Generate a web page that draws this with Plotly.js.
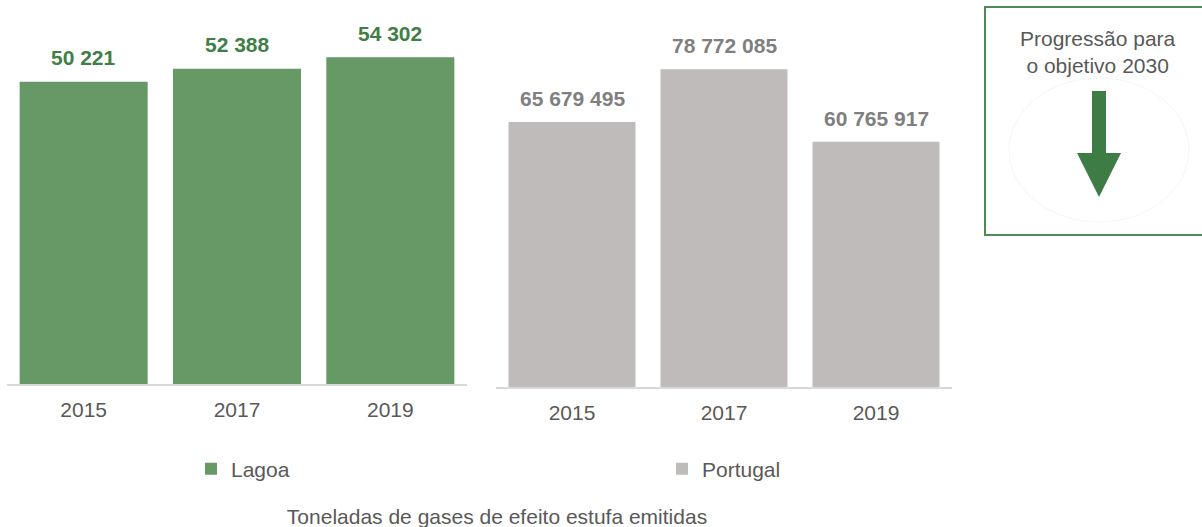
<!DOCTYPE html>
<html>
<head>
<meta charset="utf-8">
<script src="https://cdn.plot.ly/plotly-3.0.1.min.js"></script>
<style>
  html, body { margin: 0; padding: 0; background: #ffffff; }
  #chart { width: 1202px; height: 527px; }
</style>
</head>
<body>
<div id="chart"></div>
<script>
// ---- data ----
const years = ['2015', '2017', '2019'];
const lagoa = [50221, 52388, 54302];
const portugal = [65679495, 78772085, 60765917];
const seriesNames = ['Lagoa', 'Portugal'];
const chartTitle = 'Toneladas de gases de efeito estufa emitidas';
const boxLines = ['Progressão para', 'o objetivo 2030'];

// ---- helpers ----
const W = 1202, H = 527;
const px = x => x / W;
const py = y => 1 - y / H;
const fmt = n => String(n).replace(/\B(?=(\d{3})+(?!\d))/g, ' ');
const FONT = '"Liberation Sans", Arial, sans-serif';

const GREEN_BAR = '#669966';
const GREEN_TXT = '#3f7f47';
const GRAY_BAR = '#bfbbbb';
const GRAY_TXT = '#7f7f7f';
const TXT = '#595959';

const traces = [
  { type: 'bar', x: years, y: lagoa, name: seriesNames[0], xaxis: 'x', yaxis: 'y',
    marker: { color: GREEN_BAR }, hoverinfo: 'skip' },
  { type: 'bar', x: years, y: portugal, name: seriesNames[1], xaxis: 'x2', yaxis: 'y2',
    marker: { color: GRAY_BAR }, hoverinfo: 'skip' }
];

// value labels: x given as category index on the category axes
const annotations = [];
years.forEach((yr, i) => {
  annotations.push({ x: i, y: lagoa[i], xref: 'x', yref: 'y', text: '<b>' + fmt(lagoa[i]) + '</b>',
    showarrow: false, yanchor: 'middle', yshift: 24, font: { family: FONT, size: 21, color: GREEN_TXT } });
  annotations.push({ x: i, y: portugal[i], xref: 'x2', yref: 'y2', text: '<b>' + fmt(portugal[i]) + '</b>',
    showarrow: false, yanchor: 'middle', yshift: 23.5, font: { family: FONT, size: 21, color: GRAY_TXT } });
});
annotations.push({ x: px(1098), y: py(52), xref: 'paper', yref: 'paper', text: boxLines.join('<br>'),
  showarrow: false, xanchor: 'center', yanchor: 'middle', font: { family: FONT, size: 21, color: TXT } });

const shapes = [
  { type: 'rect', xref: 'paper', yref: 'paper', x0: px(985), x1: px(1215), y0: py(7), y1: py(235),
    line: { color: '#4f8a57', width: 2 }, fillcolor: 'rgba(0,0,0,0)' },
  { type: 'circle', xref: 'paper', yref: 'paper', x0: px(1009), x1: px(1189), y0: py(78), y1: py(222),
    line: { color: '#f6f6f6', width: 1 } },
  { type: 'path', xref: 'paper', yref: 'paper', fillcolor: '#3e7c46', line: { width: 0 },
    path: 'M' + px(1092) + ',' + py(91) + ' L' + px(1106) + ',' + py(91) + ' L' + px(1106) + ',' + py(153) +
          ' L' + px(1121) + ',' + py(153) + ' L' + px(1099) + ',' + py(197) + ' L' + px(1077) + ',' + py(153) +
          ' L' + px(1092) + ',' + py(153) + ' Z' }
];

const xCommon = { type: 'category', showgrid: false, zeroline: false, showline: true,
  linecolor: '#d9d9d9', linewidth: 2, ticks: '', ticklabelstandoff: 6,
  tickfont: { family: FONT, size: 21, color: TXT } };
const yCommon = { showgrid: false, zeroline: false, showline: false, showticklabels: false, ticks: '' };

const layout = {
  width: W, height: H,
  margin: { l: 0, r: 0, t: 0, b: 0 },
  paper_bgcolor: '#ffffff', plot_bgcolor: '#ffffff',
  font: { family: FONT, color: TXT },
  bargap: 0.165,
  showlegend: true,
  legend: { orientation: 'h', x: px(191), xanchor: 'left', y: py(469), yanchor: 'middle',
    entrywidth: 426, entrywidthmode: 'pixels', font: { family: FONT, size: 21, color: TXT },
    bgcolor: 'rgba(0,0,0,0)' },
  title: { text: chartTitle, x: px(497), xanchor: 'center', xref: 'paper', y: py(517), yanchor: 'middle',
    yref: 'container', font: { family: FONT, size: 21, color: TXT } },
  xaxis: Object.assign({}, xCommon, { domain: [px(7), px(467)], anchor: 'y' }),
  yaxis: Object.assign({}, yCommon, { domain: [(H - 384) / H, 1], range: [0, 384 * 166.2], anchor: 'x' }),
  xaxis2: Object.assign({}, xCommon, { domain: [px(496), px(952)], anchor: 'y2' }),
  yaxis2: Object.assign({}, yCommon, { domain: [(H - 387) / H, 1], range: [0, 387 * 247850], anchor: 'x2' }),
  annotations: annotations,
  shapes: shapes
};

Plotly.newPlot('chart', traces, layout, { staticPlot: true, displayModeBar: false });
</script>
</body>
</html>
